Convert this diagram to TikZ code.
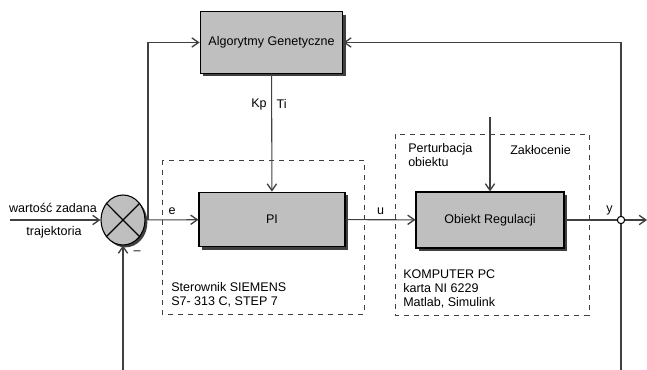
\documentclass[tikz,border=0pt]{standalone}
\usepackage{fontspec}
\setmainfont{Liberation Sans}
\usetikzlibrary{arrows.meta, shapes.geometric, shadows}

\begin{document}
\begin{tikzpicture}[x=0.75pt,y=-0.75pt,>={Straight Barb[length=5pt,width=7pt,line width=1pt]},
  font=\fontsize{9.4}{10.8}\selectfont,
  block/.style={draw=black, line width=0.8pt, fill=black!25, inner sep=0pt,
    drop shadow={shadow xshift=2.2pt, shadow yshift=-2.2pt, fill=black!75, opacity=1}},
  sumnode/.style={ellipse, draw=black, line width=0.8pt, fill=black!25, inner sep=0pt,
    minimum width=33pt, minimum height=37.5pt,
    drop shadow={shadow xshift=1.8pt, shadow yshift=-1.8pt, fill=black!75, opacity=1}},
  junction/.style={circle, draw=black, line width=0.8pt, fill=white, inner sep=0pt, minimum size=5.5pt},
  signal/.style={draw=black!75, line width=0.8pt},
  grpbox/.style={draw=black!75, line width=0.7pt, dash pattern=on 3.75pt off 3.75pt},
  grptext/.style={anchor=west, align=left, inner sep=0pt}]

\useasboundingbox (0,0) rectangle (647,370);

% define the blocks
  \node[block, minimum width=107pt, minimum height=46pt] (ga) at (271.5,42.5) {Algorytmy Genetyczne};
  \node[block, minimum width=109.5pt, minimum height=41pt] (pi) at (272,219.5) {PI};
  \node[block, minimum width=111pt, minimum height=42pt] (obj) at (490,220) {Obiekt Regulacji};
  \node[sumnode] (sum) at (123,220) {};
  \draw[signal, draw=black] (sum.45) -- (sum.225) (sum.135) -- (sum.-45);

% dashed groups
  \draw[grpbox] (162,160) rectangle (364,314);
  \draw[grpbox] (395,134) rectangle (589,315);
  \node[grptext] (plc) at (171,294.5) {Sterownik SIEMENS\\S7- 313 C, STEP 7};
  \node[grptext] (pc) at (403,289) {KOMPUTER PC\\karta NI 6229\\Matlab, Simulink};
  \node[grptext] (pert) at (408,155) {Perturbacja\\obiektu};
  \node[grptext] (dlbl) at (510,150) {Zakłocenie};

% signal ends
  \coordinate (in) at (10,220);
  \coordinate (br) at (148,220);
  \coordinate (dist) at (490,117);
  \coordinate (fbin) at (123,370);
  \coordinate (fbout) at (621,370);
  \coordinate (end) at (647,220);
  \node[junction] (out) at (621,220) {};

% define the links
  \draw[signal,->] (in) -- (sum);
  \node (sp) at (53,208) {wartość zadana};
  \node (traj) at (54,232) {trajektoria};
  \node (minus) at (137,253) {\textendash};
  \draw[signal,->] (sum) -- node[above] {e} (pi);
  \draw[signal,->] (br) |- (ga);
  \draw[signal,->] (ga) -- node[pos=0.26, left] {Kp} node[pos=0.26, right] {Ti} (pi);
  \draw[signal,->] (pi) -- node[above] {u} (obj);
  \draw[signal,->] (dist) -- (obj);
  \draw[signal] (obj) -- node[pos=0.86, above] {y} (out);
  \draw[signal,->] (out) -- (end);
  \draw[signal,->] (fbout) -- (out) |- (ga);
  \draw[signal,->] (fbin) -- (sum);

\end{tikzpicture}
\end{document}
